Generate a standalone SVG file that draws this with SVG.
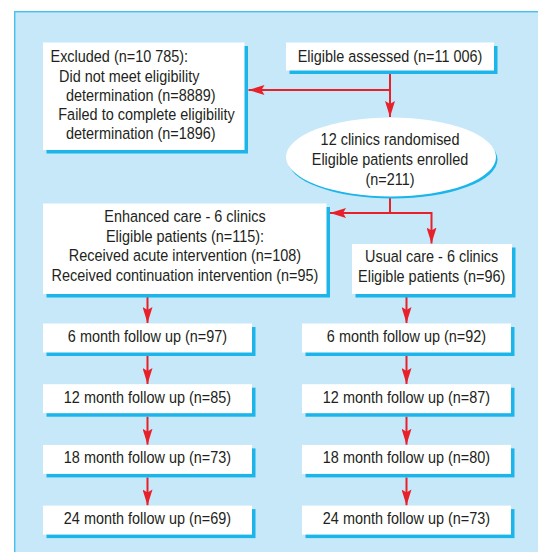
<svg xmlns="http://www.w3.org/2000/svg" width="538" height="552" viewBox="0 0 538 552">
<defs>
<style>
.box{fill:#ffffff}
.sh{fill:#1bb5ea}
text{font-family:"Liberation Sans",Arial,sans-serif;font-size:16.5px;fill:#231f20}
.c{text-anchor:middle}
.ln{fill:none;stroke:#e8202a;stroke-width:2}
</style>
<marker id="ah" viewBox="0 0 16 10" refX="16" refY="5" markerWidth="16" markerHeight="10" markerUnits="userSpaceOnUse" orient="auto">
<path d="M0,0 L16,5 L0,10 L3,5 Z" fill="#e8202a"/>
</marker>
</defs>
<rect x="14.7" y="11.7" width="530" height="550" fill="#c6e8f8" stroke="#45c0ef" stroke-width="1.4"/>

<g id="connectors">
<path class="ln" d="M390,74 V117" marker-end="url(#ah)"/>
<path class="ln" d="M390,90 H248.5" marker-end="url(#ah)"/>
<path class="ln" d="M390,198 V213 H330" marker-end="url(#ah)"/>
<path class="ln" d="M390,213 H431.5 V243.5" marker-end="url(#ah)"/>
<path class="ln" d="M147.5,297 V323" marker-end="url(#ah)"/>
<path class="ln" d="M147.5,356 V384" marker-end="url(#ah)"/>
<path class="ln" d="M147.5,416.7 V444.7" marker-end="url(#ah)"/>
<path class="ln" d="M147.5,477.4 V505.4" marker-end="url(#ah)"/>
<path class="ln" d="M406.5,296 V323" marker-end="url(#ah)"/>
<path class="ln" d="M406.5,356 V384" marker-end="url(#ah)"/>
<path class="ln" d="M406.5,416.7 V444.7" marker-end="url(#ah)"/>
<path class="ln" d="M406.5,477.4 V505.4" marker-end="url(#ah)"/>
</g>

<g id="excluded">
<rect class="sh" x="46.5" y="46" width="201.5" height="107.5"/>
<rect class="box" x="43" y="42.5" width="201.5" height="107.5"/>
<text transform="translate(50.5,62.3) scale(0.875,1)">Excluded (n=10 785):</text>
<text transform="translate(59,81.5) scale(0.875,1)">Did not meet eligibility</text>
<text transform="translate(66,100.5) scale(0.875,1)">determination (n=8889)</text>
<text transform="translate(58.3,119.5) scale(0.875,1)">Failed to complete eligibility</text>
<text transform="translate(66,138.5) scale(0.875,1)">determination (n=1896)</text>
</g>

<g id="eligible">
<rect class="sh" x="289.5" y="46" width="208" height="28"/>
<rect class="box" x="286" y="42.5" width="208" height="28"/>
<text class="c" transform="translate(390,62.3) scale(0.875,1)">Eligible assessed (n=11 006)</text>
</g>

<g id="randomised">
<ellipse class="sh" cx="392.5" cy="159.5" rx="105" ry="39"/>
<ellipse class="box" cx="391" cy="157" rx="105" ry="39.5"/>
<text class="c" transform="translate(390,145) scale(0.875,1)">12 clinics randomised</text>
<text class="c" transform="translate(390,165) scale(0.875,1)">Eligible patients enrolled</text>
<text class="c" transform="translate(390,185) scale(0.875,1)">(n=211)</text>
</g>

<g id="enhanced">
<rect class="sh" x="46.5" y="207" width="283.5" height="90.5"/>
<rect class="box" x="43" y="203.5" width="283.5" height="90.5"/>
<text class="c" transform="translate(185,221.7) scale(0.875,1)">Enhanced care - 6 clinics</text>
<text class="c" transform="translate(185,241.5) scale(0.875,1)">Eligible patients (n=115):</text>
<text class="c" transform="translate(185,261.3) scale(0.875,1)">Received acute intervention (n=108)</text>
<text class="c" transform="translate(185,281.1) scale(0.875,1)">Received continuation intervention (n=95)</text>
</g>

<g id="usual">
<rect class="sh" x="355.5" y="247.5" width="160" height="50"/>
<rect class="box" x="352" y="244" width="160" height="50"/>
<text class="c" transform="translate(431.7,261.7) scale(0.875,1)">Usual care - 6 clinics</text>
<text class="c" transform="translate(431.7,281.5) scale(0.875,1)">Eligible patients (n=96)</text>
</g>

<g id="enh6">
<rect class="sh" x="46.5" y="327" width="209" height="29"/>
<rect class="box" x="43" y="323.5" width="209" height="29"/>
<text class="c" transform="translate(147.5,342) scale(0.875,1)">6 month follow up (n=97)</text>
</g>
<g id="enh12">
<rect class="sh" x="46.5" y="387.7" width="209" height="29"/>
<rect class="box" x="43" y="384.2" width="209" height="29"/>
<text class="c" transform="translate(147.5,402.7) scale(0.875,1)">12 month follow up (n=85)</text>
</g>
<g id="enh18">
<rect class="sh" x="46.5" y="448.4" width="209" height="29"/>
<rect class="box" x="43" y="444.9" width="209" height="29"/>
<text class="c" transform="translate(147.5,463.4) scale(0.875,1)">18 month follow up (n=73)</text>
</g>
<g id="enh24">
<rect class="sh" x="46.5" y="509.1" width="209" height="29"/>
<rect class="box" x="43" y="505.6" width="209" height="29"/>
<text class="c" transform="translate(147.5,524.1) scale(0.875,1)">24 month follow up (n=69)</text>
</g>

<g id="usu6">
<rect class="sh" x="305.5" y="327" width="209" height="29"/>
<rect class="box" x="302" y="323.5" width="209" height="29"/>
<text class="c" transform="translate(406.5,342) scale(0.875,1)">6 month follow up (n=92)</text>
</g>
<g id="usu12">
<rect class="sh" x="305.5" y="387.7" width="209" height="29"/>
<rect class="box" x="302" y="384.2" width="209" height="29"/>
<text class="c" transform="translate(406.5,402.7) scale(0.875,1)">12 month follow up (n=87)</text>
</g>
<g id="usu18">
<rect class="sh" x="305.5" y="448.4" width="209" height="29"/>
<rect class="box" x="302" y="444.9" width="209" height="29"/>
<text class="c" transform="translate(406.5,463.4) scale(0.875,1)">18 month follow up (n=80)</text>
</g>
<g id="usu24">
<rect class="sh" x="305.5" y="509.1" width="209" height="29"/>
<rect class="box" x="302" y="505.6" width="209" height="29"/>
<text class="c" transform="translate(406.5,524.1) scale(0.875,1)">24 month follow up (n=73)</text>
</g>
</svg>
